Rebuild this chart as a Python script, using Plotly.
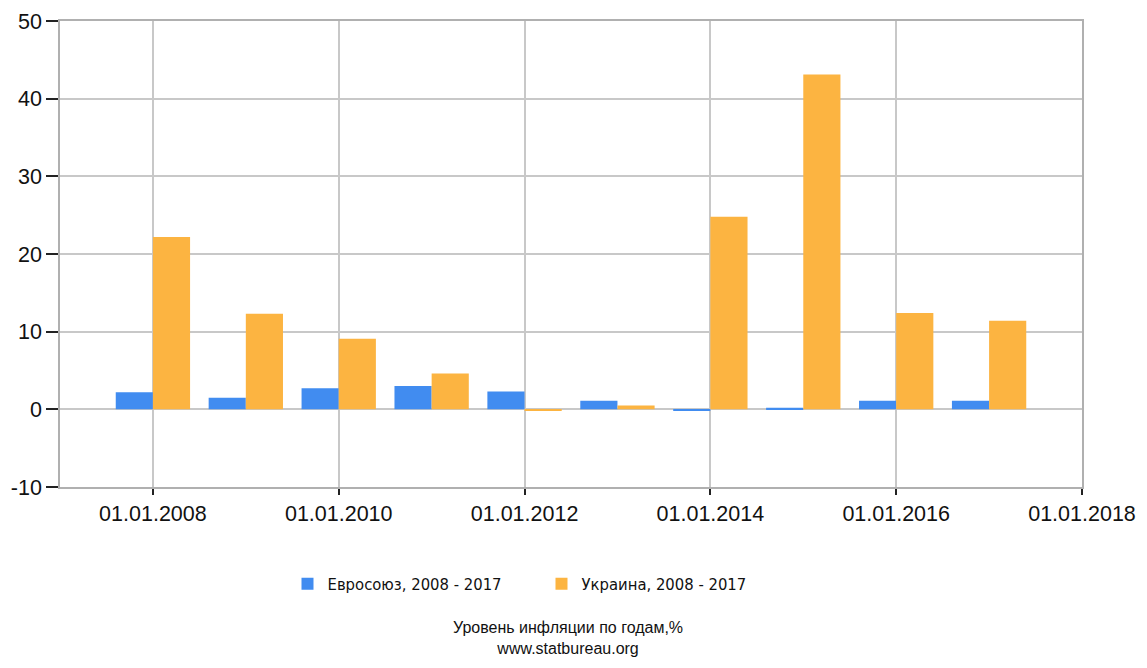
import plotly.graph_objects as go

years = [2008, 2009, 2010, 2011, 2012, 2013, 2014, 2015, 2016, 2017]
eu_values = [2.2, 1.5, 2.7, 3.0, 2.3, 1.1, -0.1, 0.2, 1.1, 1.1]
ua_values = [22.2, 12.3, 9.1, 4.6, -0.2, 0.5, 24.8, 43.1, 12.4, 11.4]
tick_years = [2008, 2010, 2012, 2014, 2016, 2018]
tick_labels = ["01.01.2008", "01.01.2010", "01.01.2012", "01.01.2014", "01.01.2016", "01.01.2018"]
y_ticks = [-10, 0, 10, 20, 30, 40, 50]
y_labels = ["-10", "0", "10", "20", "30", "40", "50"]

eu_name = "Евросоюз, 2008 - 2017"
ua_name = "Украина, 2008 - 2017"
title_lines = ["Уровень инфляции по годам,%", "www.statbureau.org"]

fig = go.Figure()
fig.add_trace(go.Bar(x=years, y=eu_values, name=eu_name, marker=dict(color="#418CF0", line=dict(width=0)), width=0.4, offset=-0.4))
fig.add_trace(go.Bar(x=years, y=ua_values, name=ua_name, marker=dict(color="#FCB441", line=dict(width=0)), width=0.4, offset=0.0))

fig.update_layout(
    width=1131, height=652,
    margin=dict(l=52, r=57, t=13, b=173, autoexpand=False),
    paper_bgcolor="white", plot_bgcolor="white",
    barmode="overlay",
    font=dict(family="Liberation Sans, Arial", color="#111"),
    showlegend=True,
    legend=dict(orientation="h", x=0.2226, xanchor="left", y=-0.208, yanchor="middle",
                font=dict(family="DejaVu Sans Condensed, DejaVu Sans", size=16.5, color="#111"),
                itemwidth=30, entrywidth=209, tracegroupgap=0, traceorder="normal"),
)
fig.update_xaxes(range=[2007, 2018], tickmode="array", tickvals=tick_years, ticktext=tick_labels,
                 showgrid=True, gridcolor="#c8c8c8", gridwidth=1.5, automargin=False,
                 showline=True, linecolor="#b0b0b0", linewidth=1.5, mirror=True,
                 ticks="outside", ticklen=6, tickcolor="#222", tickwidth=1.5,
                 tickfont=dict(size=21.5, color="#111"), zeroline=False)
fig.update_yaxes(range=[-10, 50], tickmode="array", tickvals=y_ticks, ticktext=y_labels,
                 showgrid=True, gridcolor="#c8c8c8", gridwidth=1.5, automargin=False,
                 showline=True, linecolor="#b0b0b0", linewidth=1.5, mirror=True,
                 ticks="outside", ticklen=12, tickcolor="#222", tickwidth=1.5,
                 tickfont=dict(size=21.5, color="#111"), zeroline=True, zerolinecolor="#c8c8c8", zerolinewidth=1.5)

fig.add_annotation(text=title_lines[0] + "<br>" + title_lines[1], xref="paper", yref="paper",
                   x=0.497, y=-0.28, xanchor="center", yanchor="top", showarrow=False,
                   font=dict(family="Liberation Sans, Arial", size=16, color="#111"))

fig.write_html("out.html")
